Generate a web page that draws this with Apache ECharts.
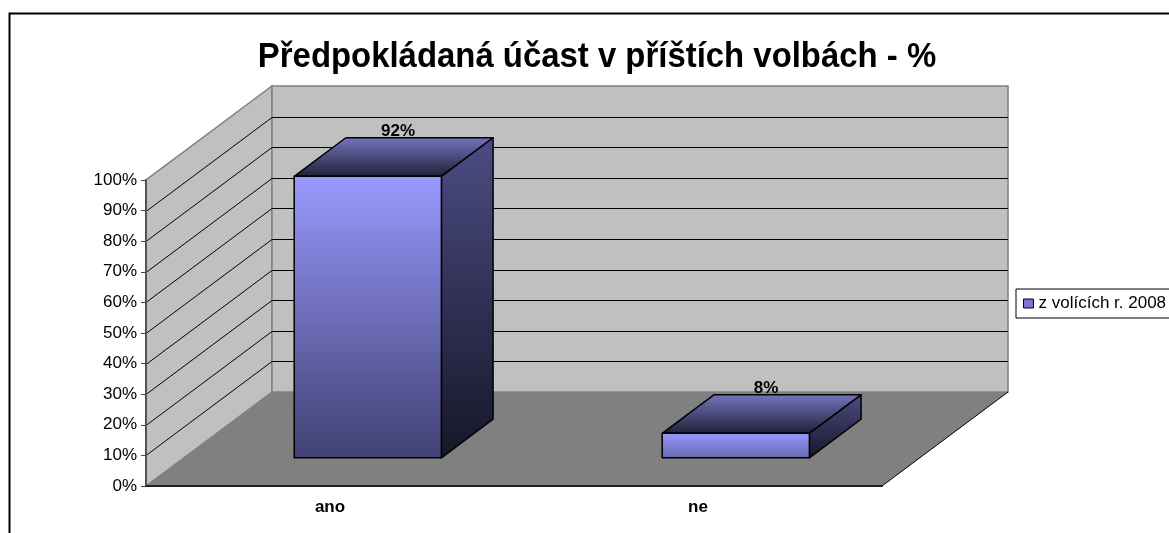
<!DOCTYPE html>
<html>
<head>
<meta charset="utf-8">
<script src="https://cdn.jsdelivr.net/npm/echarts@6/dist/echarts.min.js"></script>
<style>html,body{margin:0;padding:0;background:#fff}#main{width:1169px;height:533px}</style>
</head>
<body>
<div id="main"></div>
<script>
var categories = ['ano', 'ne'];
var values = [92, 8];
var yTicks = [0, 10, 20, 30, 40, 50, 60, 70, 80, 90, 100];
var seriesName = 'z volících r. 2008';
var titleText = 'Předpokládaná účast v příštích volbách - %';

var FONT = '"Liberation Sans", Arial, sans-serif';
// posun zadni steny (3D hloubka) v px
var depth = [126, -94];
var barFront = 0.30, barBack = 0.71, barWidth = 0.40;

function hex(c) { return [1, 3, 5].map(function (i) { return parseInt(c.substr(i, 2), 16); }); }
function mix(a, b, t) {
    var A = hex(a), B = hex(b);
    return 'rgb(' + A.map(function (v, i) { return Math.round(v + (B[i] - v) * t); }).join(',') + ')';
}
function grad(c0, c1) {
    return new echarts.graphic.LinearGradient(0, 0, 0, 1, [{offset: 0, color: c0}, {offset: 1, color: c1}]);
}

var myChart = echarts.init(document.getElementById('main'));

// steny a podlaha
function renderWalls(params, api) {
    var cs = params.coordSys;
    var x0 = cs.x, x1 = cs.x + cs.width, yT = cs.y, yB = cs.y + cs.height;
    var dx = depth[0], dy = depth[1];
    var ch = [];
    ch.push({type: 'polygon', shape: {points: [[x0, yB], [x0, yT], [x0 + dx, yT + dy], [x0 + dx, yB + dy]]},
        style: {fill: '#C0C0C0', stroke: '#808080', lineWidth: 1.5}});
    ch.push({type: 'rect', shape: {x: x0 + dx, y: yT + dy, width: cs.width, height: cs.height},
        style: {fill: '#C0C0C0', stroke: '#808080', lineWidth: 1.5}});
    ch.push({type: 'polygon', shape: {points: [[x0, yB], [x1, yB], [x1 + dx, yB + dy], [x0 + dx, yB + dy]]},
        style: {fill: '#808080'}});
    ch.push({type: 'line', shape: {x1: x1, y1: yB, x2: x1 + dx, y2: yB + dy}, style: {stroke: '#000', lineWidth: 1}});
    yTicks.forEach(function (t, i) {
        if (i === 0 || i === yTicks.length - 1) return;
        var y = Math.round(api.coord([0, t])[1]) + 0.5;
        ch.push({type: 'polyline', shape: {points: [[x0, y], [x0 + dx, y + dy], [x1 + dx, y + dy]]},
            style: {stroke: '#000', lineWidth: 1, fill: null}});
    });
    return {type: 'group', children: ch};
}

// 3D sloupec
function renderBar(params, api) {
    var ci = api.value(0), v = api.value(1);
    var base = api.coord([ci, 0]), top = api.coord([ci, v]);
    var w = api.size([1, 0])[0] * barWidth;
    var fx = depth[0] * barFront, fy = depth[1] * barFront;
    var ox = depth[0] * (barBack - barFront), oy = depth[1] * (barBack - barFront);
    var L = base[0] - w / 2 + fx, R = L + w;
    var T = top[1] + fy, B = base[1] + fy;
    var edge = {stroke: '#000', lineWidth: 1.5, lineJoin: 'round'};
    return {
        type: 'group',
        children: [
            {type: 'polygon', shape: {points: [[L, T], [R, T], [R + ox, T + oy], [L + ox, T + oy]]},
                style: Object.assign({fill: grad('#7575c0', '#202036')}, edge)},
            {type: 'polygon', shape: {points: [[R, T], [R + ox, T + oy], [R + ox, B + oy], [R, B]]},
                style: Object.assign({fill: grad('#4c4c84', '#161628')}, edge)},
            {type: 'rect', shape: {x: L, y: T, width: w, height: B - T},
                style: Object.assign({fill: grad('#9999FF', mix('#9999FF', '#3c3c6c', 0.5 + 0.5 * v / 100))}, edge)},
            {type: 'text', x: base[0] + depth[0] * 0.5 + 5, y: top[1] + depth[1] * 0.5 - 26,
                style: {text: v + '%', fill: '#000', font: 'bold 17px ' + FONT, align: 'center', verticalAlign: 'middle'}}
        ]
    };
}

var option = {
    animation: false,
    grid: {left: 146, top: 180, width: 736, height: 306},
    graphic: [
        {type: 'rect', left: 7, top: 11, shape: {width: 1200, height: 600},
            style: {fill: null, stroke: '#000', lineWidth: 2}},
        {type: 'text', x: 597, y: 57, scaleX: 0.94,
            style: {text: titleText, fill: '#000', font: 'bold 35px ' + FONT, align: 'center', verticalAlign: 'middle'}}
    ],
    legend: {
        data: [seriesName], left: 1016, top: 289, padding: [6, 12, 6, 7],
        borderColor: '#000', borderWidth: 1, backgroundColor: '#fff',
        itemWidth: 10, itemHeight: 9, icon: 'rect',
        itemStyle: {borderColor: '#000', borderWidth: 1},
        textStyle: {fontSize: 17, color: '#000', fontFamily: FONT}
    },
    xAxis: {
        type: 'category', data: categories, z: 5,
        axisLine: {lineStyle: {color: '#222', width: 2}},
        axisTick: {length: 5, lineStyle: {color: '#444'}},
        axisLabel: {margin: 13, fontSize: 17, fontWeight: 'bold', color: '#000', fontFamily: FONT}
    },
    yAxis: {
        type: 'value', min: yTicks[0], max: yTicks[yTicks.length - 1], interval: 10, z: 5,
        axisLine: {show: true, lineStyle: {color: '#555', width: 2}},
        axisTick: {show: true, length: 5, lineStyle: {color: '#444'}},
        splitLine: {show: false},
        axisLabel: {margin: 9, fontSize: 17, color: '#000', fontFamily: FONT, formatter: '{value}%'}
    },
    series: [
        {type: 'custom', name: 'walls', z: 1, silent: true, renderItem: renderWalls, data: [[0, 0]]},
        {type: 'custom', name: seriesName, z: 3, renderItem: renderBar,
            itemStyle: {color: '#7777cc'},
            encode: {x: 0, y: 1},
            data: categories.map(function (c, i) { return [i, values[i]]; })}
    ]
};

myChart.setOption(option);
</script>
</body>
</html>
